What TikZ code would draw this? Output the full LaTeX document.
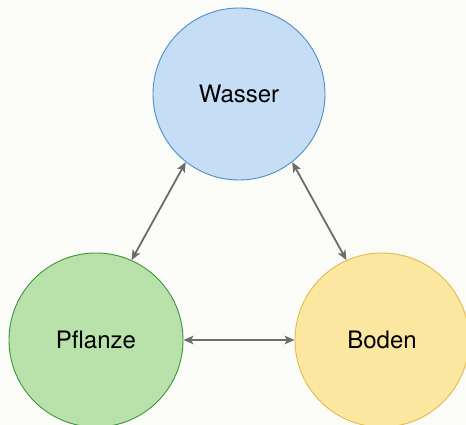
\documentclass[tikz,border=0pt]{standalone}
\usepackage{fontspec}
\setmainfont{TeX Gyre Heros}
\usetikzlibrary{arrows.meta}
\definecolor{paper}{HTML}{FBFBF7}
\definecolor{waterfill}{HTML}{C6DDF6}
\definecolor{waterline}{HTML}{4E8FC6}
\definecolor{plantfill}{HTML}{B9E2AA}
\definecolor{plantline}{HTML}{3C9440}
\definecolor{soilfill}{HTML}{FCE7A0}
\definecolor{soilline}{HTML}{E2BC4E}
\definecolor{link}{HTML}{6C6C6C}
\tikzset{
  topic/.style={circle, line width=0.9pt, minimum size=172pt, inner sep=0pt,
                font=\fontsize{24}{28}\selectfont},
  link/.style={draw=link, line width=1.8pt,
               {Stealth[length=10pt,width=8.5pt,inset=2.5pt]}-{Stealth[length=10pt,width=8.5pt,inset=2.5pt]}}
}
\begin{document}
\begin{tikzpicture}[x=1pt,y=-1pt]
  \fill[paper] (0,0) rectangle (466,425);
  \useasboundingbox (0,0) rectangle (466,425);
  \begin{scope}
    \clip (0,0) rectangle (466,425);
    \node[topic, fill=waterfill, draw=waterline] (wasser) at (239,94) {Wasser};
    \node[topic, fill=plantfill, draw=plantline, minimum size=174pt] (pflanze) at (96,340) {Pflanze};
    \node[topic, fill=soilfill, draw=soilline, minimum size=174pt] (boden) at (382,340) {Boden};
  \end{scope}
  \draw[link] (wasser.232) -- (pflanze.66);
  \draw[link] (wasser.308) -- (boden.114);
  \draw[link] (pflanze.0) -- (boden.180);
\end{tikzpicture}
\end{document}
